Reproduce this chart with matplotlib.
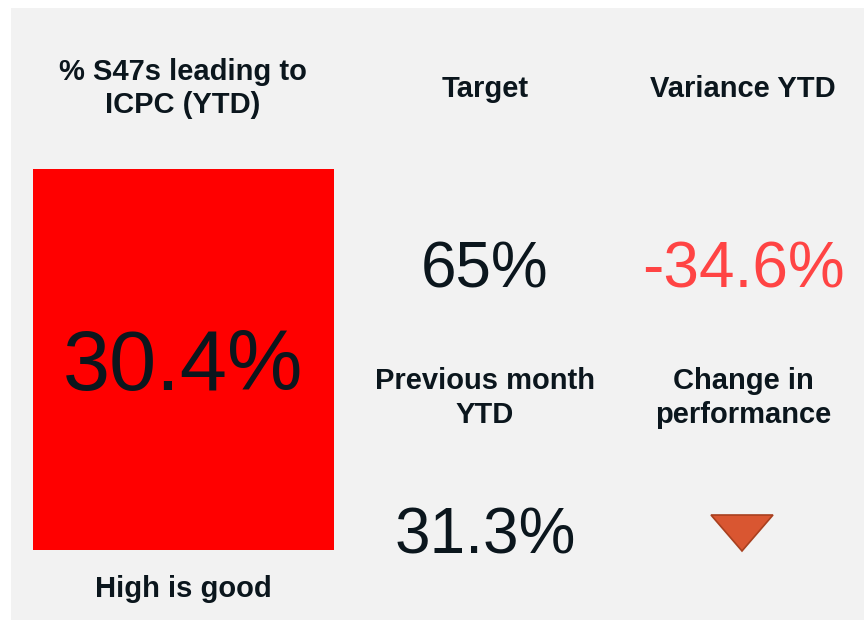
import matplotlib
matplotlib.use("Agg")
import matplotlib.pyplot as plt
from matplotlib.patches import Rectangle, Polygon

plt.rcParams['font.family'] = ['Liberation Sans', 'DejaVu Sans']

kpi_title = "% S47s leading to\nICPC (YTD)"
kpi_value = 30.4
kpi_note = "High is good"
target_label = "Target"
target_value = 65
variance_label = "Variance YTD"
variance_value = -34.6
prev_label = "Previous month\nYTD"
prev_value = 31.3
change_label = "Change in\nperformance"

W, H = 864, 620
fig = plt.figure(figsize=(W / 100, H / 100), dpi=100)
fig.patch.set_facecolor("white")
ax = fig.add_axes([0, 0, 1, 1])
ax.set_xlim(0, W)
ax.set_ylim(H, 0)
ax.axis("off")

dark = "#0b161d"
ax.add_patch(Rectangle((11, 8), W - 11, H - 8, facecolor="#f2f2f2", edgecolor="none"))
ax.add_patch(Rectangle((33, 169), 301, 381, facecolor="#ff0000", edgecolor="none"))

hdr = dict(ha="center", va="center", fontsize=21, fontweight="bold", color=dark, linespacing=1.25)
ax.text(183, 88.5, kpi_title, **hdr)
ax.text(183, 589, kpi_note, **hdr)
ax.text(485, 89, target_label, **hdr)
ax.text(743, 89, variance_label, **hdr)
ax.text(485, 398, prev_label, **hdr)
ax.text(743, 398, change_label, **hdr)

ax.text(183, 390, f"{kpi_value:.1f}%", ha="center", va="baseline", fontsize=61, color=dark)
ax.text(485, 287, f"{target_value}%", ha="center", va="baseline", fontsize=46, color=dark)
ax.text(743, 287, f"{variance_value:.1f}%", ha="center", va="baseline", fontsize=46, color="#ff4444")
ax.text(485, 553, f"{prev_value:.1f}%", ha="center", va="baseline", fontsize=46, color=dark)

ax.add_patch(Polygon([(711, 515), (773, 515), (742, 551)], closed=True,
                     facecolor="#d95631", edgecolor="#a8401f", linewidth=1.2))

fig.savefig("out.png", dpi=100, facecolor="white")
